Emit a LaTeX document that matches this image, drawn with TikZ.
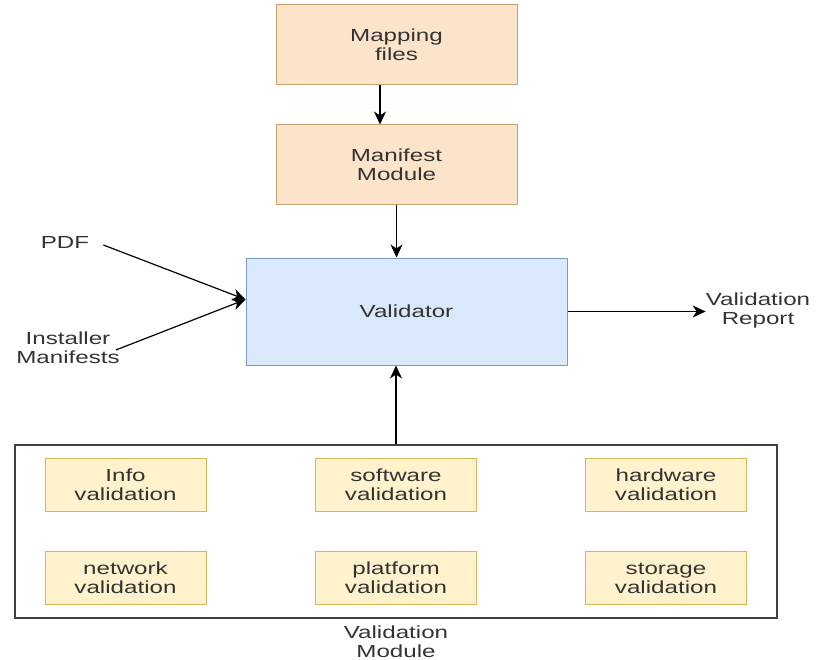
\documentclass[tikz,border=0pt]{standalone}
\usepackage{fontspec}
\usetikzlibrary{arrows.meta}
\setmainfont{Liberation Sans}[FakeStretch=1.38]
\definecolor{orangefill}{HTML}{FCE4CB}
\definecolor{orangeline}{HTML}{C8A070}
\definecolor{bluefill}{HTML}{DAE8FC}
\definecolor{blueline}{HTML}{7E98C0}
\definecolor{yellowfill}{HTML}{FFF2CC}
\definecolor{yellowline}{HTML}{D6B656}
\definecolor{textgray}{HTML}{333333}

\tikzset{
	label text/.style={font=\fontsize{17.5}{19}\selectfont, text=textgray, align=center, inner sep=0pt},
	input box/.style={label text, draw=orangeline, fill=orangefill, line width=1pt, minimum width=241pt, minimum height=80pt},
	check box/.style={label text, draw=yellowline, fill=yellowfill, line width=1pt, minimum width=161pt, minimum height=53pt},
	flow/.style={black, line width=1.2pt, ->, >={Stealth[length=13pt, width=12pt, inset=4pt]}}
}

\begin{document}
\begin{tikzpicture}[x=1pt, y=-1pt]
	\useasboundingbox (0,0) rectangle (821,660);
	% inputs
	\node [input box] (mapping) at (396.5,45) {Mapping\\files};
	\node [input box] (manifest) at (396.5,165) {Manifest\\Module};
	\node [label text, draw=blueline, fill=bluefill, line width=1pt, minimum width=321pt, minimum height=107pt] (validator) at (406.5,311.5) {Validator};
	\node [label text] (pdf) at (65,242) {PDF};
	\node [label text] (installer) at (68,348) {Installer\\Manifests};
	\node [label text] (report) at (758,310) {Validation\\Report};
	% validation module
	\node [draw=black!75, line width=1.5pt, minimum width=762pt, minimum height=173pt] (module) at (396,531.5) {};
	\node [label text] (modulename) at (396,642) {Validation\\Module};
	\node [check box] (info) at (125.5,485) {Info\\validation};
	\node [check box] (software) at (396,485) {software\\validation};
	\node [check box] (hardware) at (666,485) {hardware\\validation};
	\node [check box] (network) at (125.5,578) {network\\validation};
	\node [check box] (platform) at (396,578) {platform\\validation};
	\node [check box] (storage) at (666,578) {storage\\validation};
	% arrows
	\draw [flow] ([xshift=-16.5pt]mapping.south) -- ([xshift=-16.5pt]manifest.north);
	\draw [flow] (manifest.south) -- (manifest.south |- validator.north);
	\draw [flow] ([shift={(14,3)}]pdf.east) -- ([yshift=12pt]validator.west);
	\draw [flow] ([shift={(-4,2)}]installer.east) -- ([yshift=12pt]validator.west);
	\draw [flow] (validator.east) -- (report.west |- validator.east);
	\draw [flow] (module.north) -- (module.north |- validator.south);
\end{tikzpicture}
\end{document}
